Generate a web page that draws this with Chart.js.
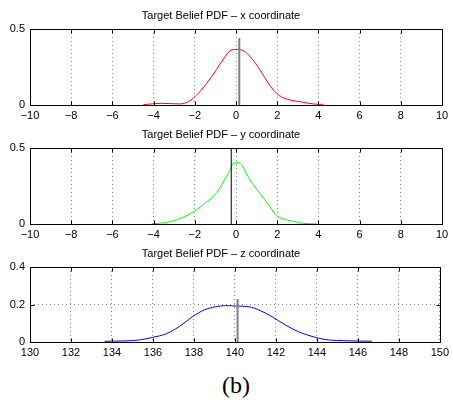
<!DOCTYPE html>
<html>
<head>
<meta charset="utf-8">
<script src="https://cdn.jsdelivr.net/npm/chart.js@4.4.1/dist/chart.umd.min.js"></script>
<style>
html,body{margin:0;padding:0;background:#fff;}
#wrap{position:relative;width:453px;height:400px;overflow:hidden;}
canvas{position:absolute;left:0;}
#cap{position:absolute;left:186px;width:100px;top:372px;text-align:center;font-family:"Liberation Serif",serif;font-size:24px;color:#000;}
</style>
</head>
<body>
<div id="wrap">
<canvas id="cx" width="453" height="125" style="top:0px"></canvas>
<canvas id="cy" width="453" height="125" style="top:119px"></canvas>
<canvas id="cz" width="453" height="124" style="top:238px"></canvas>
<div id="cap">(b)</div>
</div>
<script>
// ===== DATA =====
const titles = ["Target Belief PDF \u2013 x coordinate", "Target Belief PDF \u2013 y coordinate", "Target Belief PDF \u2013 z coordinate"]

const xyTicks = [-10,-8,-6,-4,-2,0,2,4,6,8,10]
const zTicks = [130,132,134,136,138,140,142,144,146,148,150]
const xyValTicks = [0,0.5]
const zValTicks = [0,0.2,0.4]

// x coordinate pdf (red)
const pdfXPos = [-4.5,-3.6,-2.72,-2.31,-1.99,-1.42,-0.94,-0.53,-0.29,0.03,0.36,0.76,1.17,1.57,1.81,2.14,2.62,3.1,3.75,4.24]
const pdfXVal = [0.002,0.011,0.007,0.022,0.055,0.143,0.235,0.318,0.357,0.366,0.357,0.307,0.23,0.143,0.099,0.059,0.033,0.022,0.007,0.004]
const markX = [0.16,0.16]
const markXVal = [0,0.44]

// y coordinate pdf (green)
const pdfYPos = [-4.09,-3.45,-2.88,-2.07,-1.42,-0.94,-0.62,-0.29,-0.13,0.03,0.28,0.68,1.17,1.65,1.97,2.46,2.78,3.27,3.92]
const pdfYVal = [0.001,0.009,0.028,0.08,0.146,0.206,0.276,0.355,0.4,0.406,0.388,0.289,0.201,0.114,0.055,0.028,0.018,0.004,0.001]
const markY = [-0.23,-0.23]
const markYVal = [0,0.5]

// z coordinate pdf (blue)
const pdfZPos = [133.64,134.69,135.34,135.99,136.63,137.28,137.93,138.5,139.06,139.55,140.03,140.68,141.17,141.81,142.46,143.1,143.92,144.56,145.37,146.0,146.7]
const pdfZVal = [0.004,0.006,0.011,0.025,0.043,0.082,0.135,0.171,0.188,0.194,0.192,0.188,0.171,0.135,0.091,0.055,0.025,0.011,0.007,0.005,0.004]
const markZ = [140.13,140.13]
const markZVal = [0,0.229]


// ===== HELPERS =====
Chart.defaults.font.family = "'Liberation Sans', Arial, sans-serif"
Chart.defaults.font.size = 11
Chart.defaults.color = "#000"

function pts(xs, ys){
return xs.map((v,i)=>({x:v,y:ys[i]}))
}

function fmt(v){
return v < 0 ? "\u2212" + Math.abs(v) : String(v)
}

// box round the axes, with short ticks pointing in
const framePlugin = {
id:"frame",
afterDatasetsDraw(chart){
const {ctx, chartArea:a, scales} = chart
const L = Math.round(a.left)+0.5, R = Math.round(a.right)+0.5
const T = Math.round(a.top)+0.5, B = Math.round(a.bottom)+0.5
ctx.save()
ctx.strokeStyle = "#000"
ctx.lineWidth = 1
ctx.beginPath()
ctx.rect(L, T, R-L, B-T)
scales.x.ticks.forEach(t=>{
const p = Math.round(scales.x.getPixelForValue(t.value))+0.5
ctx.moveTo(p,B); ctx.lineTo(p,B-4)
ctx.moveTo(p,T); ctx.lineTo(p,T+4)
})
scales.y.ticks.forEach(t=>{
const p = Math.round(scales.y.getPixelForValue(t.value))+0.5
ctx.moveTo(L,p); ctx.lineTo(L+4,p)
ctx.moveTo(R,p); ctx.lineTo(R-4,p)
})
ctx.stroke()
ctx.restore()
}
}

function makePlot(id, title, curve, curveColor, mark, markColor, markWidth, xMin, xMax, xTicks, yMax, yTicks){

return new Chart(document.getElementById(id),{
type:"line",
data:{
datasets:[
{
data:mark,
borderColor:markColor,
borderWidth:markWidth,
pointRadius:0,
tension:0
},
{
data:curve,
borderColor:curveColor,
borderWidth:1,
pointRadius:0,
cubicInterpolationMode:"monotone"
}
]
},
options:{
responsive:false,
animation:false,
devicePixelRatio:1,
layout:{padding:{left:0,right:11,top:0,bottom:0}},
plugins:{
legend:{display:false},
tooltip:{enabled:false},
title:{
display:true,
text:title,
color:"#000",
font:{size:11,weight:"normal",lineHeight:"13px"},
padding:{top:9,bottom:7}
}
},
scales:{
x:{
type:"linear",
min:xMin,
max:xMax,
afterBuildTicks:s=>{ s.ticks = xTicks.map(v=>({value:v})) },
afterFit:s=>{ s.height = 20 },
grid:{color:"#888",lineWidth:1,drawTicks:false},
border:{display:false,dash:[1,3]},
ticks:{padding:4,maxRotation:0,autoSkip:false,callback:v=>fmt(v)}
},
y:{
type:"linear",
min:0,
max:yMax,
afterBuildTicks:s=>{ s.ticks = yTicks.map(v=>({value:v})) },
afterFit:s=>{ s.width = 30 },
grid:{color:"#888",lineWidth:1,drawTicks:false},
border:{display:false,dash:[1,3]},
ticks:{padding:5,callback:v=>fmt(v)}
}
}
},
plugins:[framePlugin]
})

}


// ===== INITIALIZE =====
makePlot("cx", titles[0], pts(pdfXPos,pdfXVal), "#ff0000", pts(markX,markXVal), "#7f7f7f", 2, -10, 10, xyTicks, 0.5, xyValTicks)
makePlot("cy", titles[1], pts(pdfYPos,pdfYVal), "#00ff00", pts(markY,markYVal), "#000000", 1, -10, 10, xyTicks, 0.5, xyValTicks)
makePlot("cz", titles[2], pts(pdfZPos,pdfZVal), "#0000ff", pts(markZ,markZVal), "#7f7f7f", 2, 130, 150, zTicks, 0.4, zValTicks)
</script>
</body>
</html>
